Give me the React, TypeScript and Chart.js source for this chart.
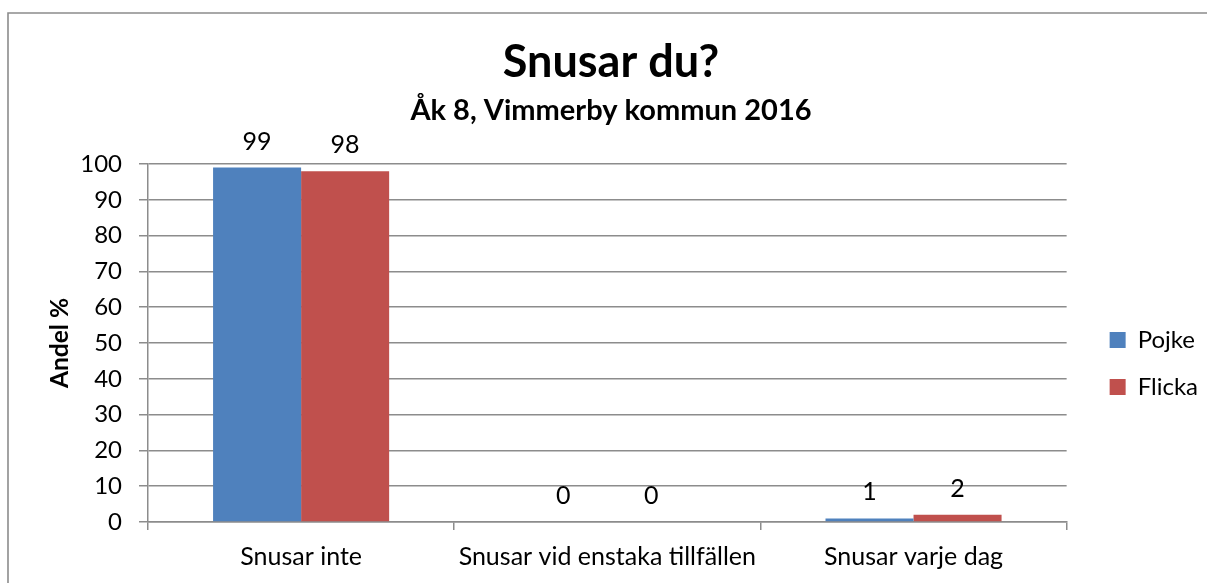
import React, { useEffect, useRef } from "react";
import { Chart, registerables } from "chart.js";

Chart.register(...registerables);

const categories = ["Snusar inte", "Snusar vid enstaka tillfällen", "Snusar varje dag"];
const pojkeValues = [99, 0, 1];
const flickaValues = [98, 0, 2];
const seriesNames = ["Pojke", "Flicka"];
const titleText = "Snusar du?";
const subtitleText = "Åk 8, Vimmerby kommun 2016";
const yAxisTitle = "Andel %";

const FONT = "Lato";
const PAD_LEFT = 34;

const borderPlugin = {
  id: "outerBorder",
  beforeDraw(chart: any) {
    const ctx = chart.ctx;
    ctx.save();
    ctx.fillStyle = "#ffffff";
    ctx.fillRect(0, 0, chart.width, chart.height);
    ctx.strokeStyle = "#8c8c8c";
    ctx.lineWidth = 1.6;
    ctx.beginPath();
    ctx.moveTo(8, chart.height + 5);
    ctx.lineTo(8, 13);
    ctx.lineTo(chart.width + 5, 13);
    ctx.stroke();
    ctx.restore();
  },
};

const legendShiftPlugin = {
  id: "legendShift",
  afterLayout(chart: any) {
    const lg = chart.legend;
    if (!lg) return;
    const dx = 20;
    const dy = 72;
    lg.left += dx;
    lg.right += dx;
    lg.top += dy;
    lg.bottom += dy;
  },
};

const dataLabelPlugin = {
  id: "valueLabels",
  afterDatasetsDraw(chart: any) {
    const ctx = chart.ctx;
    ctx.save();
    ctx.font = `25px ${FONT}`;
    ctx.fillStyle = "#000000";
    ctx.textAlign = "center";
    ctx.textBaseline = "middle";
    chart.data.datasets.forEach((ds: any, i: number) => {
      const meta = chart.getDatasetMeta(i);
      meta.data.forEach((bar: any, j: number) => {
        const v = ds.data[j];
        ctx.fillText(String(v), bar.x, bar.y - 26);
      });
    });
    ctx.restore();
  },
};

export default function App() {
  const ref = useRef<HTMLCanvasElement | null>(null);
  useEffect(() => {
    if (!ref.current) return;
    const chart = new Chart(ref.current, {
      type: "bar",
      data: {
        labels: categories,
        datasets: [
          { label: seriesNames[0], data: pojkeValues, backgroundColor: "#4F81BD", borderWidth: 0 },
          { label: seriesNames[1], data: flickaValues, backgroundColor: "#C0504D", borderWidth: 0 },
        ],
      },
      options: {
        animation: false,
        responsive: false,
        devicePixelRatio: 1,
        layout: { padding: { left: PAD_LEFT, right: 19, top: 0, bottom: 0 } },
        datasets: { bar: { categoryPercentage: 0.575, barPercentage: 1 } },
        plugins: {
          title: {
            display: true,
            text: titleText,
            color: "#000",
            font: { family: FONT, size: 45, weight: "bold", lineHeight: 1.2 },
            padding: { top: 35, bottom: 0 },
          },
          subtitle: {
            display: true,
            text: subtitleText,
            color: "#000",
            font: { family: FONT, size: 29, weight: "bold", lineHeight: 1.2 },
            padding: { top: 4.6, bottom: 35.6 },
          },
          legend: {
            position: "right",
            align: "center",
            labels: {
              boxWidth: 16,
              boxHeight: 16,
              color: "#000",
              padding: 23,
              font: { family: FONT, size: 24 },
            },
          },
          tooltip: { enabled: false },
        },
        scales: {
          x: {
            offset: true,
            grid: {
              offset: true,
              drawOnChartArea: false,
              drawTicks: true,
              tickLength: 8,
              color: "#8c8c8c",
              lineWidth: 1.5,
            },
            border: { color: "#8c8c8c", width: 1.5 },
            ticks: { color: "#000", padding: 12, font: { family: FONT, size: 25 }, maxRotation: 0 },
            afterFit(scale: any) {
              scale.height = 61;
            },
          },
          y: {
            min: 0,
            max: 100,
            ticks: { stepSize: 10, color: "#000", padding: 17, font: { family: FONT, size: 24 } },
            grid: { color: "#8c8c8c", lineWidth: 1.5, tickLength: 9 },
            border: { color: "#8c8c8c", width: 1.5 },
            title: {
              display: true,
              text: yAxisTitle,
              color: "#000",
              font: { family: FONT, size: 24.5, weight: "bold", lineHeight: 1.2 },
              padding: { top: 45 - PAD_LEFT, bottom: 0 },
            },
            afterFit(scale: any) {
              scale.width = 148 - PAD_LEFT;
            },
          },
        },
      },
      plugins: [borderPlugin, legendShiftPlugin, dataLabelPlugin],
    });
    return () => chart.destroy();
  }, []);
  return (
    <canvas
      ref={ref}
      width={1207}
      height={583}
      style={{ position: "fixed", left: 0, top: 0, width: 1207, height: 583, display: "block" }}
    />
  );
}
